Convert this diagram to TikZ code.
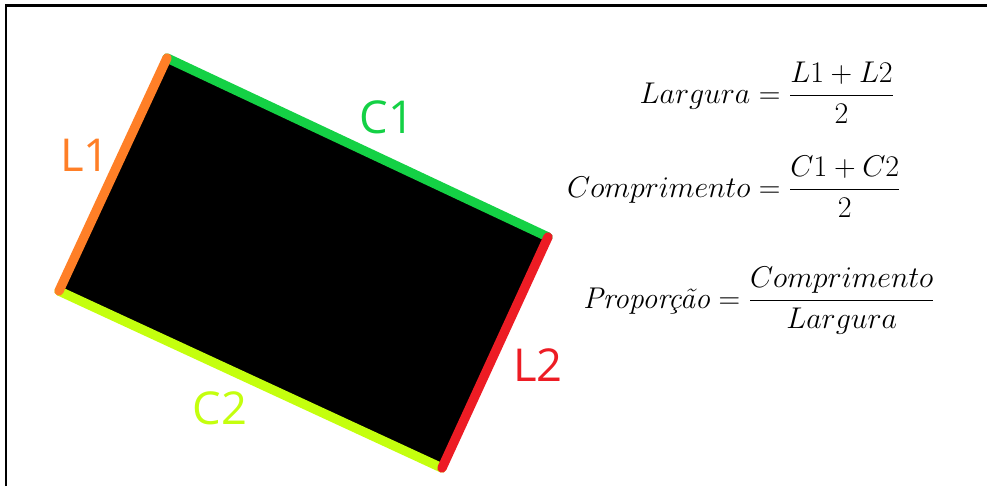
\documentclass[tikz,border=0pt]{standalone}
\usepackage{fix-cm}
\usepackage{amsmath}
\usepackage{fontspec}
\newfontfamily\sidefont{Open Sans}
\definecolor{lorange}{HTML}{FF7F27}
\definecolor{cgreen}{HTML}{14D145}
\definecolor{lred}{HTML}{ED1C24}
\definecolor{clime}{HTML}{C4FF0E}
\tikzset{
  side/.style={line width=7pt, line cap=round},
  sidelabel/.style={font=\sidefont\fontsize{34}{40}\selectfont},
  formula/.style={font=\fontsize{22.5}{28}\selectfont, inner sep=0pt}
}
\begin{document}
\begin{tikzpicture}[x=0.75pt, y=-0.75pt]
\useasboundingbox (0,0) rectangle (987,486);
\draw[line width=1.8pt] (6,486) -- (6,5.5) -- (987,5.5);
\coordinate (a) at (167,58);
\coordinate (b) at (548,237);
\coordinate (c) at (442,468);
\coordinate (d) at (59,291);
\fill[black] (a) -- (b) -- (c) -- (d) -- cycle;
\draw[side, cgreen] (a) -- (b);
\draw[side, clime] (d) -- (c);
\draw[side, lorange] (d) -- (a);
\draw[side, lred] (b) -- (c);
\node[sidelabel, text=lorange] (l1) at (85,155) {L1};
\node[sidelabel, text=cgreen] (c1) at (387,117) {C1};
\node[sidelabel, text=lred] (l2) at (538,365) {L2};
\node[sidelabel, text=clime] (c2) at (220,408) {C2};
\node[formula] (f1) at (767,93) {$\displaystyle Largura = \frac{L1 + L2}{2}$};
\node[formula] (f2) at (734,187) {$\displaystyle Comprimento = \frac{C1 + C2}{2}$};
\node[formula] (f3) at (759,301) {$\displaystyle \text{\itshape Proporção} = \frac{Comprimento}{Largura}$};
\end{tikzpicture}
\end{document}
